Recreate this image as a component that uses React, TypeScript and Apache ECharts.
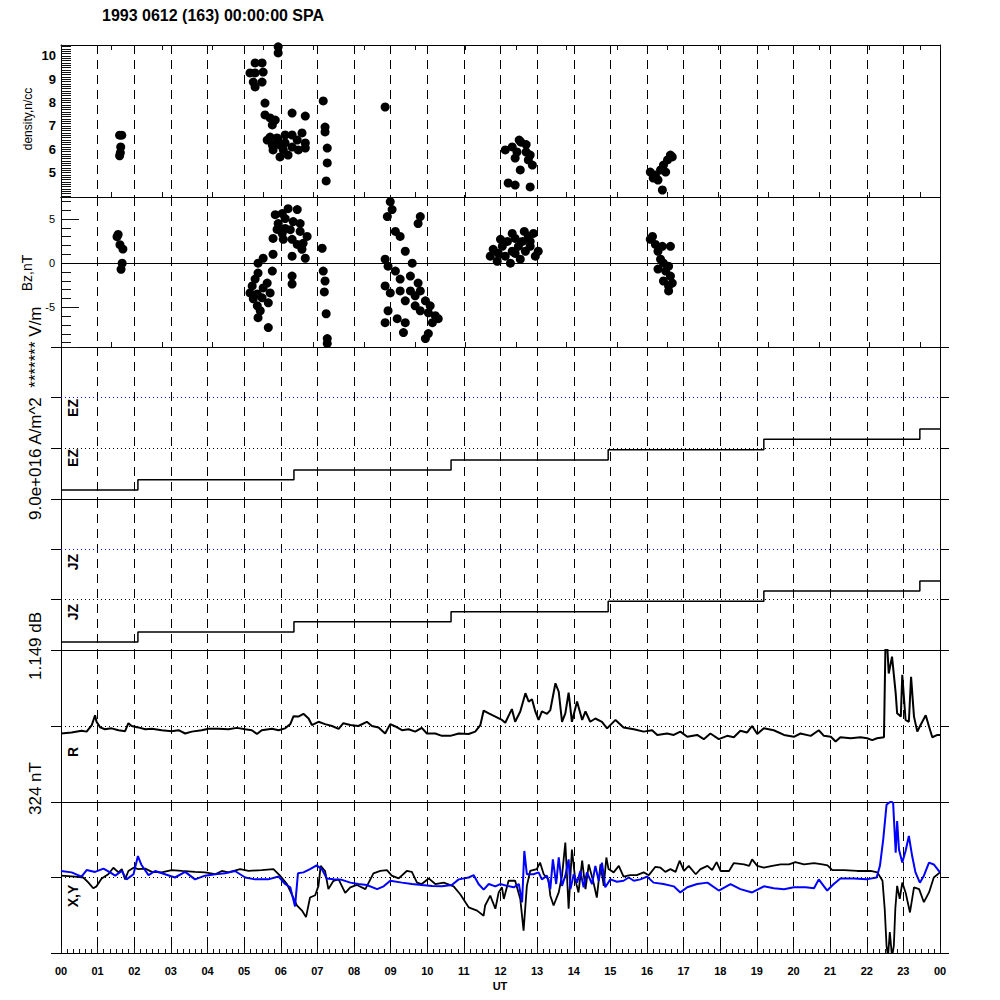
import React, { useEffect, useRef } from 'react';
import * as echarts from 'echarts';

const TITLE = '1993 0612 (163) 00:00:00 SPA';
const LEFT_LONG_LABEL = '9.0e+016 A/m^2  ******* V/m';
const BZ_LABEL = 'Bz,nT';
const DENSITY_LABEL = 'density,n/cc';
const R_SCALE_LABEL = '1.149 dB';
const XY_SCALE_LABEL = '324 nT';
const X_TITLE = 'UT';

// density (hour UT, n/cc)
const densityPts: [number, number][] = [
  [1.60, 6.6], [1.66, 6.6], [1.63, 6.1], [1.62, 5.85], [1.60, 5.72],
  [5.93, 10.39], [5.93, 10.13], [5.30, 9.70], [5.49, 9.70], [5.16, 9.27], [5.30, 9.27], [5.52, 9.31],
  [5.25, 8.88], [5.49, 8.88], [5.30, 8.67], [5.57, 7.98], [7.16, 8.07], [5.57, 7.47], [5.71, 7.34],
  [5.85, 7.25], [5.77, 7.04], [6.31, 7.55], [6.67, 7.42], [7.21, 6.95], [7.21, 6.74], [5.71, 6.52],
  [5.90, 6.48], [6.12, 6.61], [6.31, 6.61], [6.58, 6.70], [5.79, 5.97], [5.98, 6.18], [6.12, 6.27],
  [6.31, 6.09], [6.45, 6.39], [6.67, 6.27], [6.67, 6.05], [6.07, 5.97], [6.48, 5.97], [5.98, 5.67],
  [6.20, 5.75], [7.27, 6.05], [7.27, 5.41], [7.24, 4.64], [5.90, 6.31], [5.77, 6.18], [5.63, 6.39],
  [8.85, 7.81],
  [12.51, 6.39], [12.56, 6.3], [12.32, 6.1], [12.13, 5.97], [12.70, 5.88], [12.81, 5.75], [12.40, 5.62],
  [12.76, 5.54], [12.87, 5.32], [12.54, 5.11], [12.21, 4.55], [12.40, 4.46], [12.81, 4.38], [12.70, 6.2],
  [12.45, 5.88],
  [16.23, 4.89], [16.37, 5.11], [16.45, 5.32], [16.56, 5.54], [16.69, 5.67], [16.64, 5.75], [16.17, 4.76],
  [16.30, 4.68], [16.42, 4.25], [16.51, 5.02], [16.09, 5.02],
];

// Bz (hour UT, nT)
const bzPts: [number, number][] = [
  [1.56, 3.26], [1.53, 3.0], [1.61, 2.1], [1.69, 1.6], [1.67, 0], [1.64, -0.7],
  [6.20, 6.18], [6.45, 6.07], [6.04, 5.62], [6.12, 5.06], [5.93, 4.49], [6.34, 4.72], [6.53, 4.49],
  [5.90, 3.82], [6.12, 3.93], [6.53, 3.60], [6.72, 3.03], [5.79, 2.81], [6.07, 2.70], [6.31, 2.70],
  [6.45, 2.13], [6.61, 2.25], [6.04, 3.37], [6.58, 1.57], [6.31, 0.79], [6.67, 0.56], [7.13, 1.69],
  [5.85, 5.5], [6.26, 3.8],
  [5.79, 1.01], [5.52, 0.56], [5.38, 0], [5.38, -1.12], [5.30, -1.8], [5.77, -0.9], [5.63, -2.25],
  [5.22, -2.58], [5.52, -2.81], [5.16, -3.37], [5.36, -3.48], [5.71, -3.37], [5.25, -4.04], [5.49, -3.93],
  [5.66, -4.49], [5.36, -4.83], [5.44, -5.39], [5.38, -6.18], [5.66, -7.3], [6.31, -1.46], [6.31, -2.36],
  [7.16, -0.9], [7.21, -2.02], [7.19, -3.26], [7.24, -5.73], [7.27, -8.54], [7.27, -9.1],
  [8.99, 6.97], [9.04, 6.07], [8.91, 5.28], [9.81, 5.28], [9.75, 4.49], [9.13, 3.6], [9.26, 3.03],
  [8.85, 0.45], [8.93, -0.34], [9.40, 1.35], [9.59, 0], [9.13, -0.9], [9.26, -1.8], [9.54, -1.46],
  [9.75, -2.25], [8.85, -2.58], [8.99, -3.37], [9.26, -3.15], [9.40, -4.27], [9.67, -3.7], [9.81, -3.15],
  [9.95, -4.27], [10.08, -4.83], [10.03, -5.62], [10.22, -5.96], [10.14, -6.74], [8.93, -5.39],
  [8.85, -6.74], [9.18, -6.29], [9.40, -6.74], [9.35, -7.87], [9.81, -5.39], [9.95, -8.54], [10.03, -7.98],
  [9.67, -4.83], [10.30, -6.29], [9.54, -3.15],
  [11.72, 0.79], [11.80, 1.57], [11.94, 1.12], [12.05, 1.91], [12.19, 2.47], [12.32, 1.35], [12.40, 2.81],
  [12.49, 1.91], [12.60, 2.47], [12.68, 1.35], [12.76, 3.03], [12.81, 1.91], [12.90, 3.37], [12.95, 0.79],
  [12.54, 0.45], [12.27, 0], [11.91, 0.22], [12.13, 0.79], [12.32, 3.37], [12.65, 3.6], [12.81, 2.47],
  [13.03, 1.35], [12.0, 2.7], [12.4, 1.1],
  [16.09, 2.7], [16.23, 2.13], [16.15, 3.03], [16.30, 1.35], [16.42, 1.91], [16.64, 1.91], [16.37, 0.45],
  [16.45, 0], [16.30, -0.67], [16.51, -0.9], [16.59, -0.34], [16.64, -1.46], [16.45, -2.02], [16.59, -2.58],
  [16.69, -2.25], [16.59, -3.15],
];

// EZ / JZ step traces (hour UT of each step, level)
const ezStepTimes = [0, 2.10, 6.36, 10.65, 14.94, 19.19, 23.45];
const ezStepVals = [0.18, 0.38, 0.57, 0.77, 0.97, 1.18, 1.38];
const jzStepTimes = [0, 2.10, 6.36, 10.65, 14.94, 19.19, 23.45];
const jzStepVals = [0.16, 0.36, 0.56, 0.76, 0.97, 1.17, 1.37];

// R trace (hour UT, relative units)
const rTrace: [number, number][] = [
  [0, -16], [0.29, -14], [0.56, -10], [0.70, -12], [0.84, 2], [0.93, 23], [0.97, 9], [1.07, -3], [1.20, -7],
  [1.38, -5], [1.57, -9], [1.75, -11], [1.84, 6], [1.93, 0], [2.11, -3], [2.30, -7], [2.48, -6], [2.75, -9],
  [3.02, -11], [3.21, -9], [3.39, -16], [3.57, -12], [3.84, -9], [4.03, -6], [4.30, -6], [4.57, -7], [4.80, -4],
  [5.03, -7], [5.21, -9], [5.35, -17], [5.48, -9], [5.76, -6], [5.94, -9], [6.12, -5], [6.26, 4], [6.35, 21],
  [6.48, 20], [6.62, 26], [6.76, 16], [6.85, 2], [7.03, 9], [7.21, 4], [7.40, 0], [7.58, -6], [7.71, 6],
  [7.90, 2], [8.12, 0], [8.35, 9], [8.49, 0], [8.67, -3], [8.85, -16], [8.99, 4], [9.13, -1], [9.31, -9],
  [9.49, -7], [9.67, -12], [9.85, -4], [9.99, -16], [10.22, -16], [10.40, -21], [10.63, -21], [10.86, -16],
  [11.13, -17], [11.31, -12], [11.45, 2], [11.54, 33], [11.68, 27], [11.86, 20], [12.04, 13], [12.13, 7],
  [12.31, 36], [12.40, 9], [12.54, 31], [12.68, 70], [12.77, 52], [12.86, 57], [12.95, 31], [13.04, 13],
  [13.13, 31], [13.27, 26], [13.36, 34], [13.50, 91], [13.59, 73], [13.68, 9], [13.77, 27], [13.86, 71],
  [13.95, 9], [14.09, 52], [14.23, 13], [14.32, 31], [14.45, 9], [14.59, 16], [14.77, 9], [14.91, -5],
  [15.14, 13], [15.36, -3], [15.64, -7], [15.91, -12], [16.14, -9], [16.28, -19], [16.55, -16], [16.73, -19],
  [16.91, -12], [17.10, -23], [17.37, -19], [17.55, -28], [17.73, -16], [17.96, -28], [18.19, -21],
  [18.37, -24], [18.55, -10], [18.73, -14], [18.87, 0], [19.01, -17], [19.19, -5], [19.46, -9], [19.74, -19],
  [20.01, -23], [20.19, -16], [20.47, -21], [20.69, -9], [20.83, -21], [21.02, -23], [21.15, -33],
  [21.28, -24], [21.56, -26], [21.83, -24], [22.01, -26], [22.15, -30], [22.28, -26], [22.47, -24],
  [22.51, 170], [22.56, 170], [22.60, 112], [22.69, 148], [22.79, 70], [22.83, 27], [22.93, 20], [22.97, 109],
  [23.06, 13], [23.15, 9], [23.21, 105], [23.29, 20], [23.38, -12], [23.47, 2], [23.61, 23], [23.70, -1],
  [23.79, -24], [23.93, -19], [24, -19],
];

// X component (black), nT
const xTrace: [number, number][] = [
  [0, 4], [0.38, 2], [0.61, 0], [0.75, -11], [0.88, -23], [0.97, -19], [1.11, -2], [1.29, 7], [1.43, 21],
  [1.57, 11], [1.66, 18], [1.75, -4], [1.84, 14], [1.98, 21], [2.11, 18], [2.30, 19], [2.48, 12], [2.75, 11],
  [3.02, 16], [3.30, 14], [3.66, 12], [3.93, 11], [4.21, 7], [4.39, 14], [4.57, 11], [4.89, 18], [5.12, 14],
  [5.48, 16], [5.80, 18], [5.98, 4], [6.17, -14], [6.30, -36], [6.44, -60], [6.58, -71], [6.69, -85],
  [6.80, -43], [6.94, -38], [7.03, -18], [7.09, 25], [7.21, 14], [7.30, -25], [7.44, -7], [7.58, -4],
  [7.76, -33], [7.90, -21], [8.08, -16], [8.31, -25], [8.53, 9], [8.72, 14], [8.90, 16], [9.03, 4],
  [9.22, -2], [9.44, 14], [9.58, 12], [9.72, -11], [9.85, -14], [10.04, -2], [10.22, -14], [10.45, -11],
  [10.72, -19], [10.90, -36], [11.13, -64], [11.36, -71], [11.54, -82], [11.58, -60], [11.72, -39],
  [11.86, -67], [11.95, -32], [12.04, -21], [12.09, -46], [12.22, -7], [12.40, -7], [12.54, -46],
  [12.63, -114], [12.72, -18], [12.81, 14], [12.99, 18], [13.08, 32], [13.18, 7], [13.31, -4], [13.36, -39],
  [13.45, -60], [13.59, -32], [13.68, 4], [13.77, 75], [13.86, -67], [13.95, 60], [14.04, -4], [14.13, -32],
  [14.23, 36], [14.32, -25], [14.41, 28], [14.54, -11], [14.63, -43], [14.73, 28], [14.82, -18], [14.89, 43],
  [14.95, 18], [15.09, 11], [15.23, 25], [15.36, 2], [15.54, 5], [15.72, 5], [15.91, 11], [16.05, 5],
  [16.23, 23], [16.37, 21], [16.50, 12], [16.64, 18], [16.78, 12], [16.89, 36], [17.01, 14], [17.14, 25],
  [17.33, 7], [17.46, 18], [17.65, 25], [17.78, 16], [17.90, 33], [18.01, 14], [18.24, 14], [18.37, 31],
  [18.65, 28], [18.79, 25], [18.87, 39], [19.01, 25], [19.19, 21], [19.42, 25], [19.65, 28], [19.88, 28],
  [20.05, 33], [20.29, 28], [20.56, 31], [20.79, 28], [20.93, 26], [21.06, 16], [21.38, 16], [21.74, 14],
  [22.11, 14], [22.29, 11], [22.43, -7], [22.49, -67], [22.54, -146], [22.58, -170], [22.63, -117],
  [22.69, -170], [22.74, -146], [22.78, -67], [22.83, -18], [22.90, -46], [22.97, -11], [23.06, -32],
  [23.18, -75], [23.29, -21], [23.43, -25], [23.56, -53], [23.70, -32], [23.83, 0], [24, 11],
];

// Y component (blue), nT
const yTrace: [number, number][] = [
  [0, 14], [0.29, 11], [0.56, 2], [0.70, 16], [0.93, 12], [1.16, 19], [1.34, 11], [1.48, 4], [1.66, 14],
  [1.79, -4], [1.98, 7], [2.10, 46], [2.19, 28], [2.25, 21], [2.39, 5], [2.57, 14], [2.84, 7], [3.11, 0],
  [3.39, 12], [3.66, -4], [3.93, 4], [4.21, 7], [4.48, 9], [4.75, 14], [5.03, 0], [5.30, -4], [5.66, -4],
  [5.94, 2], [6.12, -14], [6.26, -21], [6.39, -62], [6.47, 9], [6.62, 11], [6.80, 18], [6.98, 26], [7.12, 18],
  [7.26, -2], [7.44, -4], [7.67, -5], [7.90, -11], [8.12, -14], [8.35, -16], [8.63, -25], [8.81, -19],
  [8.99, -7], [9.31, -11], [9.58, -14], [9.85, -16], [10.13, -18], [10.40, -19], [10.67, -16], [10.86, -4],
  [11.13, 0], [11.27, 5], [11.40, -14], [11.54, -26], [11.68, -14], [11.86, -19], [11.99, -14], [12.18, -18],
  [12.36, -21], [12.50, -14], [12.59, -53], [12.65, 57], [12.72, 7], [12.90, 7], [13.04, 11], [13.13, -4],
  [13.27, 4], [13.36, -25], [13.43, 39], [13.52, -14], [13.59, 43], [13.68, -18], [13.77, 4], [13.86, 39],
  [13.91, -25], [14.00, 7], [14.09, -11], [14.18, 14], [14.27, -21], [14.36, 11], [14.50, -14], [14.59, 25],
  [14.68, -7], [14.77, 32], [14.86, -21], [15.00, -4], [15.18, -9], [15.36, -7], [15.50, 0], [15.64, -7],
  [15.82, -4], [16.00, 2], [16.18, -11], [16.45, -14], [16.73, -19], [16.91, -32], [17.10, -21], [17.37, -14],
  [17.65, -11], [17.96, -28], [18.28, -14], [18.55, -25], [18.87, -32], [19.19, -19], [19.46, -23],
  [19.74, -25], [20.01, -21], [20.33, -21], [20.56, -23], [20.69, -4], [20.92, -28], [21.10, -14],
  [21.28, -2], [21.65, -2], [21.99, -4], [22.27, 0], [22.36, 25], [22.45, 82], [22.54, 156], [22.60, 160],
  [22.67, 163], [22.72, 160], [22.79, 53], [22.83, 121], [22.88, 60], [22.97, 32], [23.06, 57], [23.15, 89],
  [23.24, 46], [23.33, 11], [23.45, -11], [23.56, 4], [23.70, 32], [23.83, 28], [24, 11],
];

const FONT = 'Liberation Sans';
const BLACK = '#000';
const TICK = '#111111';
const BLUE = '#0000ff';

function ls(w = 1) {
  return { color: BLACK, width: w };
}
function tk(w = 1) {
  return { color: TICK, width: w };
}

function stepData(times: number[], vals: number[]): [number, number][] {
  const d: [number, number][] = times.map((t, i) => [t, vals[i]]);
  d.push([24, vals[vals.length - 1]]);
  return d;
}

function buildOption(): any {
  const gridBoxes = [
    { top: 45, height: 152 },
    { top: 197, height: 150 },
    { top: 347, height: 152 },
    { top: 499, height: 151 },
    { top: 650, height: 152 },
    { top: 802, height: 151 },
  ];
  const grid = gridBoxes.map((g) => ({ left: 61, right: 60, top: g.top, height: g.height }));

  // each grid: bottom hour axis (data, dashed hour lines) + top axis
  const xAxis: any[] = [];
  gridBoxes.forEach((_, gi) => {
    xAxis.push({
      type: 'value', gridIndex: gi, position: 'bottom', min: 0, max: 24, interval: 1,
      axisLine: { show: true, onZero: false, lineStyle: ls(1) },
      axisTick: gi === 5
        ? { show: true, inside: true, length: 7, lineStyle: tk() }
        : { show: false },
      minorTick: gi === 5
        ? { show: true, splitNumber: 6, length: 4, lineStyle: tk() }
        : { show: false },
      axisLabel: gi === 5
        ? {
          show: true, margin: 12, color: BLACK, fontFamily: FONT, fontSize: 11, fontWeight: 'bold',
          formatter: (v: number) => {
            const h = Math.round(v) % 24;
            return (h < 10 ? '0' : '') + h;
          },
        }
        : { show: false },
      splitLine: { show: true, lineStyle: { color: BLACK, width: 1, type: [9, 6] } },
    });
    xAxis.push({
      type: 'value', gridIndex: gi, position: 'top', min: 0, max: 24, interval: 1.38,
      axisLine: { show: true, onZero: false, lineStyle: ls(1) },
      axisTick: gi <= 2
        ? { show: true, inside: gi === 0, length: 5, lineStyle: tk() }
        : { show: false },
      axisLabel: { show: false },
      splitLine: { show: false },
    });
  });

  const densityLabel = {
    show: true, margin: 5, color: BLACK, fontFamily: FONT, fontSize: 13, fontWeight: 'bold',
    formatter: (v: number) => (Math.abs(v - Math.round(v)) < 1e-6 && v >= 5 ? String(Math.round(v)) : ''),
  };
  const bzLabel = {
    show: true, margin: 6, color: BLACK, fontFamily: FONT, fontSize: 11,
    formatter: (v: number) => ([-5, 0, 5].some((t) => Math.abs(v - t) < 1e-6) ? String(Math.round(v)) : ''),
  };

  const outer = (gi: number, pos: 'left' | 'right', min: number, max: number, interval: number) => ({
    type: 'value', gridIndex: gi, position: pos, min, max, interval,
    axisLine: { show: true, onZero: false, lineStyle: ls(1) },
    axisTick: { show: true, inside: false, length: pos === 'left' ? 10 : 9, lineStyle: ls(1) },
    axisLabel: { show: false },
    splitLine: { show: false },
  });

  const yAxis: any[] = [
    { // 0 density
      type: 'value', gridIndex: 0, position: 'left', min: 3.95, max: 10.47, splitNumber: 6,
      axisLine: { show: true, onZero: false, lineStyle: ls(1) },
      axisTick: { show: true, inside: true, length: 10, lineStyle: tk() },
      minorTick: { show: true, splitNumber: 10, length: 10, lineStyle: tk() },
      axisLabel: densityLabel,
      splitLine: { show: false },
    },
    { type: 'value', gridIndex: 0, position: 'right', min: 3.95, max: 10.47, splitNumber: 6,
      axisLine: { show: true, onZero: false, lineStyle: ls(1) }, axisTick: { show: false },
      axisLabel: { show: false }, splitLine: { show: false } },                             // 1
    { // 2 Bz
      type: 'value', gridIndex: 1, position: 'left', min: -9.5, max: 7.5, splitNumber: 3,
      axisLine: { show: true, onZero: false, lineStyle: ls(1) },
      axisTick: { show: true, inside: true, length: 18, lineStyle: tk() },
      minorTick: { show: true, splitNumber: 5, length: 10, lineStyle: tk() },
      axisLabel: bzLabel,
      splitLine: { show: false },
    },
    { type: 'value', gridIndex: 1, position: 'right', min: -9.5, max: 7.5, splitNumber: 3,
      axisLine: { show: true, onZero: false, lineStyle: ls(1) }, axisTick: { show: false },
      axisLabel: { show: false }, splitLine: { show: false } },                             // 3
    outer(2, 'left', 0, 3, 1),          // 4 EZ
    outer(2, 'right', 0, 3, 1),         // 5
    outer(3, 'left', 0, 3, 1),          // 6 JZ
    outer(3, 'right', 0, 3, 1),         // 7
    outer(4, 'left', -162, 162, 162),   // 8 R
    outer(4, 'right', -162, 162, 162),  // 9
    outer(5, 'left', -162, 162, 162),   // 10 XY
    outer(5, 'right', -162, 162, 162),  // 11
  ];

  const dotted = (color: string) => ({ color, width: 1, type: [1, 3] });
  const markLine = (items: { v: number; style: any }[]) => ({
    silent: true, symbol: ['none', 'none'], label: { show: false }, animation: false,
    data: items.map((it) => ({ yAxis: it.v, lineStyle: it.style })),
  });

  const series: any[] = [
    {
      type: 'scatter', xAxisIndex: 0, yAxisIndex: 0, data: densityPts, symbolSize: 9,
      itemStyle: { color: BLACK, opacity: 1 },
    },
    {
      type: 'scatter', xAxisIndex: 2, yAxisIndex: 2, data: bzPts, symbolSize: 9,
      itemStyle: { color: BLACK, opacity: 1 },
      markLine: markLine([{ v: 0, style: { color: BLACK, width: 1, type: 'solid' } }]),
    },
    {
      type: 'line', xAxisIndex: 4, yAxisIndex: 4, data: stepData(ezStepTimes, ezStepVals), step: 'end',
      symbol: 'none', showSymbol: false, lineStyle: { color: BLACK, width: 1.5 },
      markLine: markLine([{ v: 2, style: dotted(BLUE) }, { v: 1, style: dotted(BLACK) }]),
    },
    {
      type: 'line', xAxisIndex: 6, yAxisIndex: 6, data: stepData(jzStepTimes, jzStepVals), step: 'end',
      symbol: 'none', showSymbol: false, lineStyle: { color: BLACK, width: 1.5 },
      markLine: markLine([{ v: 2, style: dotted(BLUE) }, { v: 1, style: dotted(BLACK) }]),
    },
    {
      type: 'line', xAxisIndex: 8, yAxisIndex: 8, data: rTrace, symbol: 'none', showSymbol: false, clip: true,
      lineStyle: { color: BLACK, width: 2 },
      markLine: markLine([{ v: 0, style: dotted(BLACK) }]),
    },
    {
      type: 'line', xAxisIndex: 10, yAxisIndex: 10, data: xTrace, symbol: 'none', showSymbol: false, clip: true,
      lineStyle: { color: BLACK, width: 1.8 },
      markLine: markLine([{ v: 0, style: dotted(BLACK) }]),
    },
    {
      type: 'line', xAxisIndex: 10, yAxisIndex: 10, data: yTrace, symbol: 'none', showSymbol: false, clip: true,
      lineStyle: { color: BLUE, width: 2 },
    },
  ];

  const txt = (text: string, x: number, y: number, font: string, align: string, rotate = false) => ({
    type: 'text', x, y, rotation: rotate ? Math.PI / 2 : 0, silent: true,
    style: { text, font, fill: BLACK, align, verticalAlign: 'middle', textAlign: align, textVerticalAlign: 'middle' },
  });

  const F = '"Liberation Sans", Arial, sans-serif';
  const graphic = [
    txt(TITLE, 102, 15, `bold 16px ${F}`, 'left'),
    txt(DENSITY_LABEL, 28, 119, `12px ${F}`, 'center', true),
    txt(LEFT_LONG_LABEL, 35, 520, `17px ${F}`, 'left', true),
    txt(BZ_LABEL, 27, 273, `14px ${F}`, 'center', true),
    txt(R_SCALE_LABEL, 35, 680, `17px ${F}`, 'left', true),
    txt(XY_SCALE_LABEL, 35, 815, `17px ${F}`, 'left', true),
    txt('EZ', 73, 408, `bold 14px ${F}`, 'center', true),
    txt('EZ', 73, 458, `bold 14px ${F}`, 'center', true),
    txt('JZ', 73, 562, `bold 14px ${F}`, 'center', true),
    txt('JZ', 73, 612, `bold 14px ${F}`, 'center', true),
    txt('R', 73, 752, `bold 14px ${F}`, 'center', true),
    txt('X,Y', 73, 896, `bold 14px ${F}`, 'center', true),
    txt(X_TITLE, 500, 986, `bold 11px ${F}`, 'center'),
  ];

  return { animation: false, grid, xAxis, yAxis, series, graphic };
}

export default function App() {
  const ref = useRef<HTMLDivElement>(null);
  useEffect(() => {
    if (!ref.current) return;
    const chart = echarts.init(ref.current, undefined, { renderer: 'svg' });
    chart.setOption(buildOption());
    return () => chart.dispose();
  }, []);
  return (
    <div
      ref={ref}
      style={{ position: 'absolute', left: 0, top: 0, width: 1000, height: 1000, background: '#fff' }}
    />
  );
}
